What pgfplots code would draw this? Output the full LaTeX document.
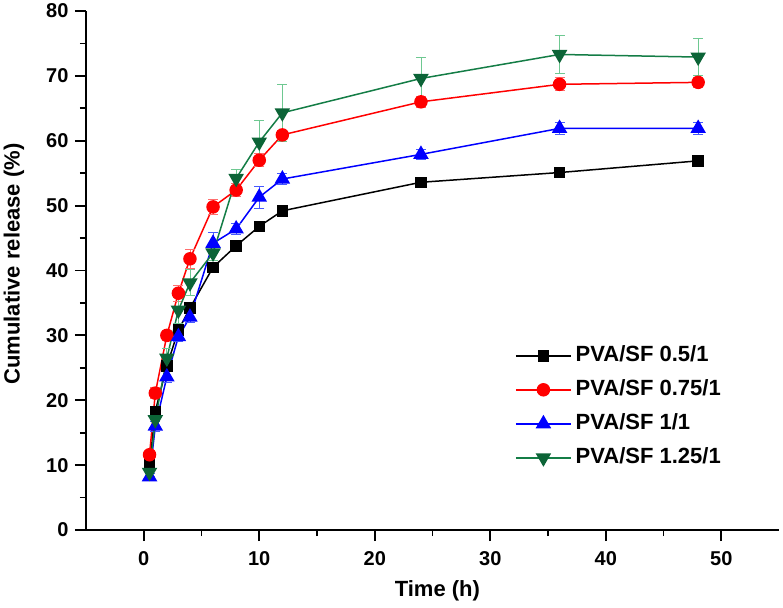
\documentclass[border=0pt]{standalone}
\usepackage{fontspec}
\setmainfont{Liberation Sans}
\usepackage{pgfplots}
\pgfplotsset{compat=1.18}
\usepackage{pgfplotstable}

\definecolor{cgreen}{RGB}{12,100,55}
\definecolor{cgreenline}{RGB}{20,125,70}
\definecolor{cgreenerr}{RGB}{110,200,145}
\definecolor{credErr}{RGB}{255,110,110}
\definecolor{cblueErr}{RGB}{70,90,255}

\pgfplotstableread{
x y e
0.5 10.0 0.6
1 18.3 0.8
2 25.3 0.8
3 30.8 0.8
4 34.2 0.8
6 40.5 0.6
8 43.8 0.6
10 46.8 0.6
12 49.2 0.6
24 53.6 0.7
36 55.1 0.6
48 56.9 0.6
}\tblack

\pgfplotstableread{
x y e
0.5 11.6 0.6
1 21.1 0.8
2 30.0 0.8
3 36.5 1.2
4 41.8 1.5
6 49.8 1.2
8 52.4 1.0
10 57.0 1.0
12 60.9 0.7
24 66.0 0.8
36 68.7 1.0
48 69.0 0.8
}\tred

\pgfplotstableread{
x y e
0.5 8.2 0.5
1 16.0 0.8
2 23.6 0.8
3 29.8 0.8
4 32.8 0.8
6 44.2 1.6
8 46.4 0.9
10 51.3 1.7
12 54.1 0.8
24 57.9 0.8
36 61.9 0.9
48 61.9 0.9
}\tblue

\pgfplotstableread{
x y e
0.5 8.9 0.6
1 17.0 1.0
2 26.5 1.5
3 33.9 2.0
4 38.1 2.0
6 42.7 1.2
8 54.2 1.3
10 59.8 3.4
12 64.3 4.4
24 69.6 3.2
36 73.3 3.0
48 72.9 2.8
}\tgreen

\begin{document}
\begin{tikzpicture}
\begin{axis}[
  scale only axis,
  width=693pt, height=519pt,
  xmin=-5, xmax=55, ymin=0, ymax=80,
  axis x line=bottom, axis y line=left,
  axis line style={-, line width=2.2pt},
  xtick={0,10,...,50}, ytick={0,10,...,80},
  minor x tick num=1, minor y tick num=1,
  tick align=outside,
  major tick length=11pt, minor tick length=6pt,
  major tick style={line width=1.8pt, black},
  minor tick style={line width=1.8pt, black},
  /pgf/number format/assume math mode=true,
  tick label style={font=\fontsize{20}{24}\selectfont\bfseries},
  xticklabel style={yshift=-7pt},
  yticklabel style={xshift=-3pt},
  xlabel={Time (h)}, ylabel={Cumulative release (\%)},
  every axis x label/.style={at={(axis description cs:0.507,-0.1175)}, anchor=center, font=\fontsize{22}{26}\selectfont\bfseries},
  every axis y label/.style={at={(axis description cs:-0.1039,0.5125)}, anchor=center, rotate=90, font=\fontsize{22}{26}\selectfont\bfseries},
  legend cell align=left,
  legend style={draw=none, fill=none, inner sep=0pt,
    at={(rel axis cs:0.619,0.1185)}, anchor=south west,
    font=\fontsize{22}{26}\selectfont\bfseries,
    row sep=13pt,
    nodes={inner xsep=4pt, inner ysep=0pt, text height=16pt, text depth=5pt}},
  legend image code/.code={\draw[mark repeat=2,mark phase=2] plot coordinates {(0pt,0pt) (27.5pt,0pt) (55pt,0pt)};},
  every axis plot/.append style={line width=1.5pt},
]
\addplot[black, mark=square*, mark size=5pt, mark options={solid},
  error bars/.cd, y dir=both, y explicit, error bar style={black, line width=0.9pt},
  error mark options={rotate=90, black, mark size=5pt, line width=0.9pt}]
  table[x=x, y=y, y error=e] {\tblack};
\addlegendentry{PVA/SF 0.5/1}
\addplot[red, mark=*, mark size=6pt, mark options={solid},
  error bars/.cd, y dir=both, y explicit, error bar style={credErr, line width=0.9pt},
  error mark options={rotate=90, credErr, mark size=5pt, line width=0.9pt}]
  table[x=x, y=y, y error=e] {\tred};
\addlegendentry{PVA/SF 0.75/1}
\addplot[blue, mark=triangle*, mark size=7.5pt, mark options={solid},
  error bars/.cd, y dir=both, y explicit, error bar style={cblueErr, line width=0.9pt},
  error mark options={rotate=90, cblueErr, mark size=5pt, line width=0.9pt}]
  table[x=x, y=y, y error=e] {\tblue};
\addlegendentry{PVA/SF 1/1}
\addplot[cgreenline, mark=triangle*, mark size=7.5pt, mark options={solid, rotate=180, fill=cgreen, draw=cgreen},
  error bars/.cd, y dir=both, y explicit, error bar style={cgreenerr, line width=0.9pt},
  error mark options={rotate=90, cgreenerr, mark size=5pt, line width=0.9pt}]
  table[x=x, y=y, y error=e] {\tgreen};
\addlegendentry{PVA/SF 1.25/1}
\coordinate (bl) at (rel axis cs:0,0);
\coordinate (tr) at (rel axis cs:1,1);
\end{axis}
\pgfresetboundingbox
\path ([shift={(-86pt,-77pt)}]bl) rectangle ([shift={(4pt,11pt)}]tr);
\end{tikzpicture}
\end{document}
